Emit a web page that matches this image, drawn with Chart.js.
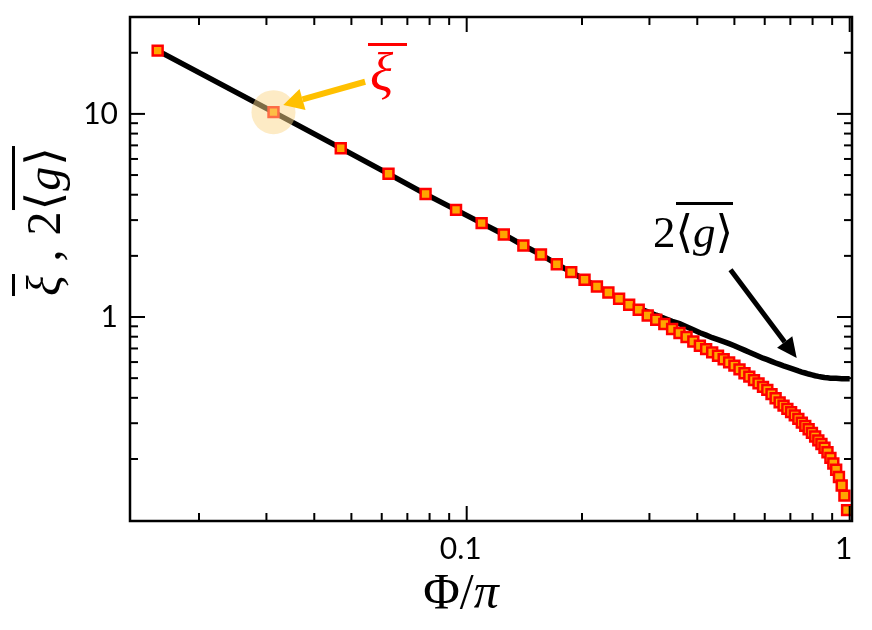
<!DOCTYPE html>
<html>
<head>
<meta charset="utf-8">
<script src="https://cdn.jsdelivr.net/npm/chart.js@4.4.0/dist/chart.umd.min.js"></script>
<style>
  body { margin: 0; background: #fff; }
  #wrap { position: relative; width: 872px; height: 630px; }
  .math { position: absolute; font-family: "Liberation Serif", "DejaVu Serif", serif; color: #000; white-space: nowrap; line-height: 1; }
  .ol { border-top: 3px solid currentColor; padding-top: 2px; }
</style>
</head>
<body>
<div id="wrap">
  <canvas id="chart" width="872" height="630"></canvas>
  <div class="math" style="font-size:48px; left:44px; top:221px; letter-spacing:1px; transform: translate(-50%,-50%) rotate(-90deg);"><span class="ol"><i>ξ</i></span> , 2<span class="ol">⟨<i>g</i>⟩</span></div>
  <div class="math" style="font-size:50px; left:461px; top:566px; transform: translateX(-50%);">Φ/<i>π</i></div>
  <div class="math" style="font-size:45px; left:653px; top:210px;">2<span class="ol">⟨<i>g</i>⟩</span></div>
  <div class="math" style="font-size:54px; left:370px; top:46px; color:#f00;"><i>ξ</i></div>
  <div style="position:absolute; left:368px; top:43px; width:39px; height:3px; background:#f00;"></div>
</div>
<script>
// Phi/pi sample points
const phi = [0.0156, 0.0313, 0.0469, 0.0625, 0.0781, 0.0938, 0.1094, 0.125, 0.1406, 0.1563,
  0.1719, 0.1875, 0.2031, 0.2188, 0.2344, 0.25, 0.2656, 0.2813, 0.2969, 0.3125,
  0.3281, 0.3438, 0.3594, 0.375, 0.3906, 0.4063, 0.4219, 0.4375, 0.4531, 0.4688,
  0.4844, 0.5, 0.5156, 0.5313, 0.5469, 0.5625, 0.5781, 0.5938, 0.6094, 0.625,
  0.6406, 0.6563, 0.6719, 0.6875, 0.7031, 0.7188, 0.7344, 0.75, 0.7656, 0.7813,
  0.7969, 0.8125, 0.8281, 0.8438, 0.8594, 0.875, 0.8906, 0.9063, 0.9219, 0.9375,
  0.9531, 0.9688, 0.9844, 1.0];

// xi bar (red squares)
const xiBar = [20.5, 10.2, 6.78, 5.07, 4.03, 3.37, 2.90, 2.55, 2.25, 2.03,
  1.82, 1.664, 1.526, 1.414, 1.321, 1.230, 1.149, 1.086, 1.018, 0.970,
  0.924, 0.873, 0.834, 0.797, 0.758, 0.722, 0.695, 0.670, 0.645, 0.620,
  0.598, 0.576, 0.552, 0.529, 0.509, 0.489, 0.471, 0.453, 0.438, 0.417,
  0.398, 0.380, 0.366, 0.353, 0.340, 0.328, 0.315, 0.302, 0.291, 0.280,
  0.269, 0.258, 0.247, 0.237, 0.227, 0.216, 0.2025, 0.190, 0.177, 0.163,
  0.148, 0.132, 0.112];

// 2<g> bar (black line)
const gBar2 = [20.5, 10.2, 6.78, 5.07, 4.03, 3.37, 2.90, 2.55, 2.25, 2.03,
  1.82, 1.664, 1.526, 1.414, 1.321, 1.230, 1.152, 1.105, 1.062, 1.021,
  0.986, 0.953, 0.927, 0.896, 0.866, 0.837, 0.814, 0.791, 0.773, 0.756,
  0.739, 0.722, 0.704, 0.687, 0.671, 0.656, 0.641, 0.627, 0.617, 0.605,
  0.594, 0.584, 0.575, 0.567, 0.559, 0.551, 0.543, 0.536, 0.530, 0.524,
  0.519, 0.514, 0.510, 0.507, 0.504, 0.502, 0.500, 0.499, 0.499, 0.498,
  0.497, 0.497, 0.497, 0.497];

// axis ticks
const xMajor = [0.1, 1];
const xMajorText = ['0.1', '1'];
const xMinor = [0.02, 0.03, 0.04, 0.05, 0.06, 0.07, 0.08, 0.09, 0.2, 0.3, 0.4, 0.5, 0.6, 0.7, 0.8, 0.9];
const yMajor = [1, 10];
const yMajorText = ['1', '10'];
const yMinor = [0.2, 0.3, 0.4, 0.5, 0.6, 0.7, 0.8, 0.9, 2, 3, 4, 5, 6, 7, 8, 9, 20];

// annotation anchors, in data units
const xiArrow = { from: [0.0543, 14.4], to: [0.0332, 11.07] };
const gArrow = { from: [0.4884, 1.709], to: [0.7272, 0.6286] };

function drawArrow(ctx, x1, y1, x2, y2, w, headLen, headW, color) {
  const ang = Math.atan2(y2 - y1, x2 - x1);
  const bx = x2 - headLen * Math.cos(ang), by = y2 - headLen * Math.sin(ang);
  ctx.strokeStyle = color;
  ctx.fillStyle = color;
  ctx.lineWidth = w;
  ctx.beginPath();
  ctx.moveTo(x1, y1);
  ctx.lineTo(bx, by);
  ctx.stroke();
  const nx = -Math.sin(ang) * headW / 2, ny = Math.cos(ang) * headW / 2;
  ctx.beginPath();
  ctx.moveTo(x2, y2);
  ctx.lineTo(bx + nx, by + ny);
  ctx.lineTo(bx - nx, by - ny);
  ctx.closePath();
  ctx.fill();
}

const extras = {
  id: 'extras',
  afterDatasetsDraw(chart) {
    const { ctx, scales: { x, y } } = chart;
    ctx.save();
    // highlight on the second xi point
    ctx.fillStyle = 'rgba(252, 215, 140, 0.5)';
    ctx.beginPath();
    ctx.arc(x.getPixelForValue(phi[1]), y.getPixelForValue(xiBar[1]), 22, 0, Math.PI * 2);
    ctx.fill();
    drawArrow(ctx, x.getPixelForValue(xiArrow.from[0]), y.getPixelForValue(xiArrow.from[1]),
      x.getPixelForValue(xiArrow.to[0]), y.getPixelForValue(xiArrow.to[1]), 6, 20, 22, '#FFC000');
    drawArrow(ctx, x.getPixelForValue(gArrow.from[0]), y.getPixelForValue(gArrow.from[1]),
      x.getPixelForValue(gArrow.to[0]), y.getPixelForValue(gArrow.to[1]), 5, 20, 19, '#000');
    ctx.restore();
  },
  afterDraw(chart) {
    const { ctx, chartArea: a, scales: { x, y } } = chart;
    ctx.save();
    ctx.strokeStyle = '#000';
    ctx.lineWidth = 2;
    const seg = (x1, y1, x2, y2) => { ctx.beginPath(); ctx.moveTo(x1, y1); ctx.lineTo(x2, y2); ctx.stroke(); };
    const xt = (v, len) => { const p = x.getPixelForValue(v); seg(p, a.bottom, p, a.bottom - len); seg(p, a.top, p, a.top + len); };
    const yt = (v, len) => { const p = y.getPixelForValue(v); seg(a.left, p, a.left + len, p); seg(a.right, p, a.right - len, p); };
    xMinor.forEach(v => xt(v, 8));
    xMajor.forEach(v => xt(v, 15));
    yMinor.forEach(v => yt(v, 8));
    yMajor.forEach(v => yt(v, 15));
    ctx.lineWidth = 2.5;
    ctx.strokeRect(a.left, a.top, a.right - a.left, a.bottom - a.top);
    ctx.restore();
  }
};

new Chart(document.getElementById('chart'), {
  type: 'line',
  data: {
    datasets: [{
      label: 'xi',
      data: xiBar.map((v, i) => ({ x: phi[i], y: v })),
      showLine: false,
      pointStyle: 'rect',
      pointRadius: 7,
      pointBorderWidth: 2.5,
      pointBackgroundColor: '#FFA500',
      pointBorderColor: '#FF0000',
      order: 0
    }, {
      label: '2g',
      data: gBar2.map((v, i) => ({ x: phi[i], y: v })),
      borderColor: '#000',
      borderWidth: 5.5,
      pointRadius: 0,
      tension: 0,
      order: 1
    }]
  },
  options: {
    responsive: false,
    animation: false,
    layout: { padding: { top: 17, right: 20, left: 0, bottom: 0 } },
    plugins: { legend: { display: false }, tooltip: { enabled: false } },
    scales: {
      x: {
        type: 'logarithmic',
        min: 0.01321,
        max: 1.014,
        grid: { display: false, drawTicks: false },
        border: { display: false },
        afterFit: s => { s.height = 109; s.paddingLeft = 0; s.paddingRight = 0; },
        afterBuildTicks: s => { s.ticks = xMajor.map(v => ({ value: v })); },
        ticks: {
          autoSkip: false, maxRotation: 0, padding: 10, labelOffset: -6,
          color: '#000', font: { family: 'Lato', size: 30 },
          callback: v => xMajorText[xMajor.indexOf(v)]
        }
      },
      y: {
        type: 'logarithmic',
        min: 0.099,
        max: 30,
        grid: { display: false, drawTicks: false },
        border: { display: false },
        afterFit: s => { s.width = 130; s.paddingTop = 0; s.paddingBottom = 0; },
        afterBuildTicks: s => { s.ticks = yMajor.map(v => ({ value: v })); },
        ticks: {
          autoSkip: false, padding: 12,
          color: '#000', font: { family: 'Lato', size: 30 },
          callback: v => yMajorText[yMajor.indexOf(v)]
        }
      }
    }
  },
  plugins: [extras]
});
</script>
</body>
</html>
